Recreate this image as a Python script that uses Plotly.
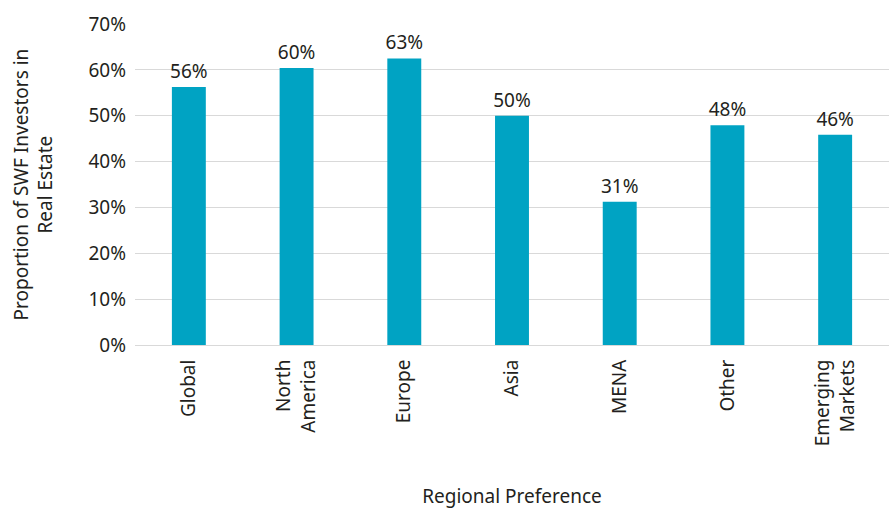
import plotly.graph_objects as go

# Share of sovereign wealth funds investing in real estate, by region
regions = ["Global", "North<br>America", "Europe", "Asia", "MENA", "Other", "Emerging<br>Markets"]
share_pct = [56.25, 60.42, 62.5, 50.0, 31.25, 47.92, 45.83]
y_ticks = [0, 10, 20, 30, 40, 50, 60, 70]
y_tick_labels = [f"{v}%" for v in y_ticks]

FONT = "Noto Sans, Open Sans, sans-serif"
FS = 19
BAR_COLOR = "#00A3C3"
TEXT_COLOR = "#231F20"

fig = go.Figure(
    go.Bar(
        x=regions,
        y=share_pct,
        marker=dict(color=BAR_COLOR, line=dict(width=0)),
        width=0.315,
        texttemplate="%{y:.0f}%",
        textposition="outside",
        constraintext="none",
        textfont=dict(family=FONT, size=FS, color=TEXT_COLOR),
        cliponaxis=False,
        hoverinfo="skip",
    )
)

fig.update_layout(
    width=892,
    height=509,
    margin=dict(l=135, r=3, t=24, b=162),
    paper_bgcolor="white",
    plot_bgcolor="white",
    showlegend=False,
    font=dict(family=FONT, size=FS, color=TEXT_COLOR),
    xaxis=dict(
        tickangle=-90,
        tickfont=dict(family=FONT, size=FS, color=TEXT_COLOR),
        showline=True,
        linecolor="#D9D9D9",
        linewidth=1,
        ticks="",
        showgrid=False,
        ticklabelstandoff=6,
        title=dict(text="Regional Preference", font=dict(family=FONT, size=FS, color=TEXT_COLOR), standoff=46),
    ),
    yaxis=dict(
        range=[0, 70],
        tickvals=y_ticks,
        ticktext=y_tick_labels,
        tickfont=dict(family=FONT, size=FS, color=TEXT_COLOR),
        showgrid=True,
        gridcolor="#D9D9D9",
        gridwidth=1,
        zeroline=False,
        ticks="",
        ticklabelstandoff=8,
    ),
    annotations=[
        dict(
            text="Proportion of SWF Investors in<br>Real Estate",
            xref="paper",
            yref="paper",
            x=0,
            y=0.5,
            xanchor="center",
            yanchor="middle",
            xshift=-102,
            textangle=-90,
            showarrow=False,
            font=dict(family=FONT, size=FS, color=TEXT_COLOR),
        )
    ],
)

fig.write_html("out.html")
